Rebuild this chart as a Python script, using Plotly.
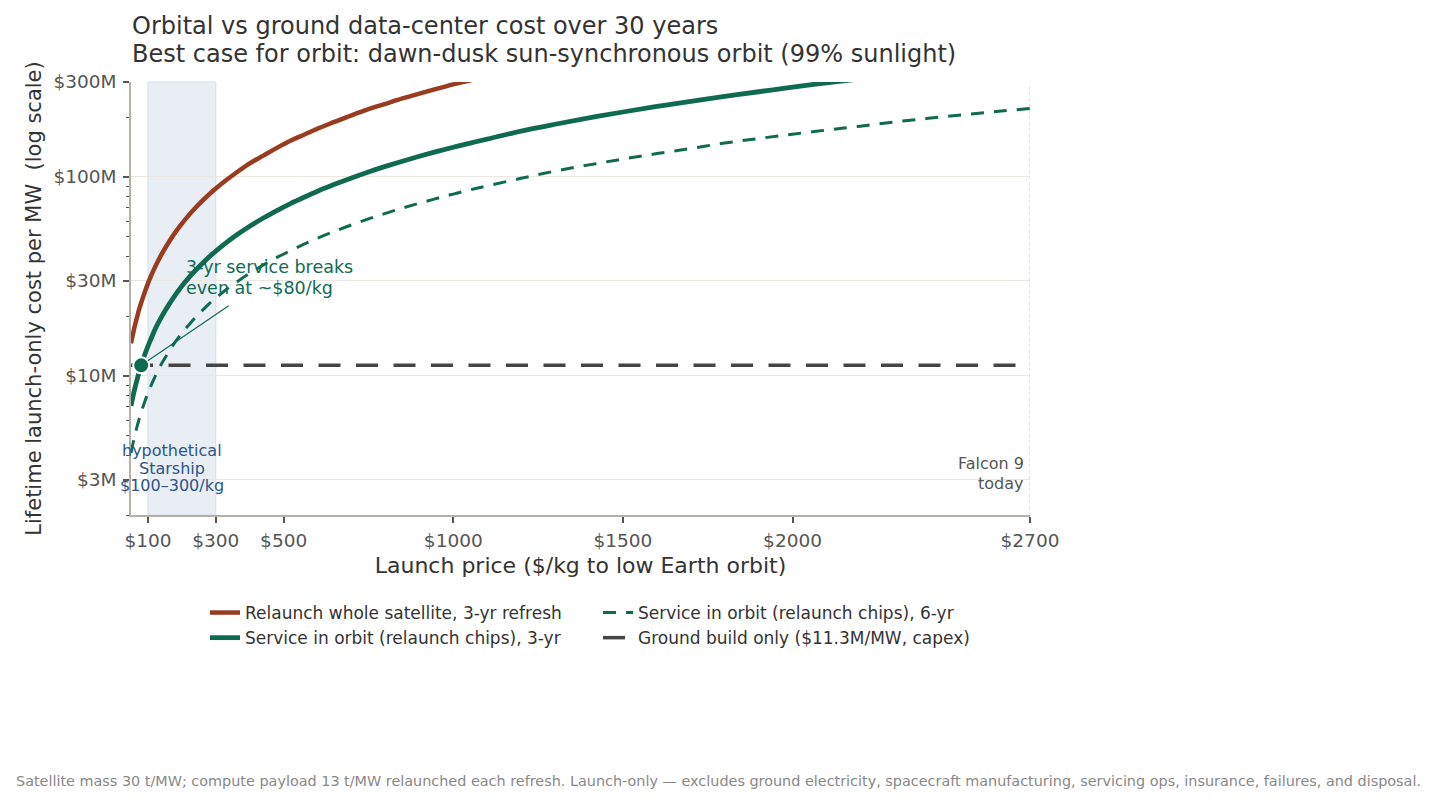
import math
import plotly.graph_objects as go

# ---------------- data ----------------
price_red = [50, 55, 60, 65, 70, 75, 80, 90, 100, 110, 120, 130, 140, 150, 165, 180, 200,
             220, 240, 260, 280, 300, 330, 360, 400, 440, 480, 520, 560, 600, 650, 700,
             750, 800, 850, 900, 950, 1000, 1050, 1100]
cost_red = [14.6, 16.0, 17.5, 18.9, 20.4, 21.9, 23.3, 26.2, 29.2, 32.1, 35.0, 37.9, 40.8,
            43.7, 48.1, 52.5, 58.3, 64.1, 70.0, 75.8, 81.6, 87.5, 96.2, 105, 117, 128, 140,
            152, 163, 175, 189, 204, 219, 233, 248, 262, 277, 292, 306, 321]

price_svc3 = [50, 55, 60, 65, 70, 75, 80, 90, 100, 110, 120, 130, 140, 150, 165, 180, 200,
              220, 240, 260, 280, 300, 330, 360, 400, 440, 480, 520, 560, 600, 650, 700,
              750, 800, 850, 900, 950, 1000, 1050, 1100, 1200, 1300, 1400, 1500, 1600, 1700,
              1800, 1900, 2000, 2100, 2200]
cost_svc3 = [7.07, 7.77, 8.48, 9.18, 9.89, 10.6, 11.3, 12.7, 14.1, 15.5, 17.0, 18.4, 19.8,
             21.2, 23.3, 25.4, 28.3, 31.1, 33.9, 36.7, 39.6, 42.4, 46.6, 50.9, 56.5, 62.2,
             67.8, 73.5, 79.1, 84.8, 91.8, 98.9, 106, 113, 120, 127, 134, 141, 148, 155,
             170, 184, 198, 212, 226, 240, 254, 268, 283, 297, 311]

price_svc6 = [50, 55, 60, 65, 70, 75, 80, 90, 100, 110, 120, 130, 140, 150, 165, 180, 200,
              220, 240, 260, 280, 300, 330, 360, 400, 440, 480, 520, 560, 600, 650, 700,
              750, 800, 850, 900, 950, 1000, 1050, 1100, 1200, 1300, 1400, 1500, 1600, 1700,
              1800, 1900, 2000, 2100, 2200, 2300, 2400, 2500, 2600, 2700]
cost_svc6 = [4.10, 4.51, 4.92, 5.33, 5.74, 6.15, 6.56, 7.38, 8.20, 9.02, 9.84, 10.7, 11.5,
             12.3, 13.5, 14.8, 16.4, 18.0, 19.7, 21.3, 23.0, 24.6, 27.1, 29.5, 32.8, 36.1,
             39.4, 42.6, 45.9, 49.2, 53.3, 57.4, 61.5, 65.6, 69.7, 73.8, 77.9, 82.0, 86.1,
             90.2, 98.4, 107, 115, 123, 131, 139, 148, 156, 164, 172, 180, 189, 197, 205,
             213, 221]

price_ground = [50, 2700]
cost_ground = [11.3, 11.3]

breakeven_price = [80]
breakeven_cost = [11.3]

starship_band = [100, 300]

x_tickvals = [100, 300, 500, 1000, 1500, 2000, 2700]
x_ticktext = ["$100", "$300", "$500", "$1000", "$1500", "$2000", "$2700"]
y_tickvals = [3, 10, 30, 100, 300]
y_ticktext = ["$3M", "$10M", "$30M", "$100M", "$300M"]
y_minor = [2, 4, 5, 6, 7, 8, 9, 20, 40, 50, 60, 70, 80, 90, 200]

title_lines = ["Orbital vs ground data-center cost over 30 years",
               "Best case for orbit: dawn-dusk sun-synchronous orbit (99% sunlight)"]
note_lines = ["3-yr service breaks", "even at ~$80/kg"]
starship_lines = ["hypothetical", "Starship", "$100–300/kg"]
falcon_lines = ["Falcon 9", "today"]
footer = ("Satellite mass 30 t/MW; compute payload 13 t/MW relaunched each refresh. "
          "Launch-only — excludes ground electricity, spacecraft manufacturing, "
          "servicing ops, insurance, failures, and disposal.")

# ---------------- styling / layout helpers ----------------
RED = "#993b1e"
GREEN = "#0f6b50"
GROUND = "#444444"
FONT = "DejaVu Sans"
W, H = 1436, 803
L, R, T, B = 131, 406, 82, 288
PW, PH = W - L - R, H - T - B


def px(x):
    return (x - L) / PW


def py(y):
    return (H - B - y) / PH


fig = go.Figure()

fig.add_trace(go.Scatter(x=price_red, y=cost_red, mode="lines", line_shape="spline",
                         name="Relaunch whole satellite, 3-yr refresh",
                         line=dict(color=RED, width=4.5)))
fig.add_trace(go.Scatter(x=price_svc6, y=cost_svc6, mode="lines", line_shape="spline",
                         name="Service in orbit (relaunch chips), 6-yr",
                         line=dict(color=GREEN, width=3, dash="13px,10px")))
fig.add_trace(go.Scatter(x=price_svc3, y=cost_svc3, mode="lines", line_shape="spline",
                         name="Service in orbit (relaunch chips), 3-yr",
                         line=dict(color=GREEN, width=4.8)))
fig.add_trace(go.Scatter(x=price_ground, y=cost_ground, mode="lines",
                         name="Ground build only ($11.3M/MW, capex)",
                         line=dict(color=GROUND, width=3.5, dash="22px,15.5px")))
fig.add_trace(go.Scatter(x=breakeven_price, y=breakeven_cost, mode="markers",
                         showlegend=False,
                         marker=dict(color=GREEN, size=16, line=dict(color="white", width=2))))

fig.add_shape(type="rect", xref="x", yref="paper", x0=starship_band[0], x1=starship_band[1],
              y0=0, y1=1, fillcolor="#e9eef5", line=dict(color="#d3dde9", width=1),
              layer="below")
fig.add_shape(type="line", xref="x", yref="paper", x0=2700, x1=2700, y0=0, y1=1,
              line=dict(color="#c8c8c8", width=1, dash="dot"))

annos = []
annos.append(dict(x=breakeven_price[0], y=math.log10(breakeven_cost[0]), xref="x", yref="y",
                  text=" ", showarrow=True, ax=91, ay=-62, arrowhead=0,
                  arrowwidth=1.2, arrowcolor=GREEN, standoff=8))
for txt, yy in zip(title_lines, [26, 54]):
    annos.append(dict(x=px(130), y=py(yy), xref="paper", yref="paper", text=txt,
                      showarrow=False, xanchor="left", yanchor="middle",
                      font=dict(family=FONT, size=24, color="#333333")))
for txt, yy in zip(note_lines, [267, 288]):
    annos.append(dict(x=px(184), y=py(yy), xref="paper", yref="paper", text=txt,
                      showarrow=False, xanchor="left", yanchor="middle",
                      font=dict(family=FONT, size=17.5, color=GREEN)))
for txt, yy in zip(starship_lines, [450, 468, 485]):
    annos.append(dict(x=px(172), y=py(yy), xref="paper", yref="paper", text=txt,
                      showarrow=False, xanchor="center", yanchor="middle",
                      font=dict(family=FONT, size=16, color="#2c5586")))
for txt, yy in zip(falcon_lines, [463, 483]):
    annos.append(dict(x=px(1026), y=py(yy), xref="paper", yref="paper", text=txt,
                      showarrow=False, xanchor="right", yanchor="middle",
                      font=dict(family=FONT, size=16, color="#555555")))
annos.append(dict(x=px(14), y=py(781), xref="paper", yref="paper", text=footer,
                  showarrow=False, xanchor="left", yanchor="middle",
                  font=dict(family=FONT, size=14.4, color="#888888")))

fig.update_layout(
    width=W, height=H,
    margin=dict(l=L, r=R, t=T, b=B),
    paper_bgcolor="white", plot_bgcolor="white",
    font=dict(family=FONT, color="#333333"),
    showlegend=True,
    legend=dict(orientation="h", x=px(205), xanchor="left",
                y=py(595), yanchor="top",
                entrywidth=348, entrywidthmode="pixels",
                font=dict(family=FONT, size=17, color="#333333"),
                bgcolor="rgba(0,0,0,0)"),
    annotations=annos,
)

fig.update_xaxes(range=[50, 2700], tickmode="array", tickvals=x_tickvals, ticktext=x_ticktext,
                 ticks="outside", ticklen=6, tickwidth=1.5, tickcolor="#555555",
                 ticklabelstandoff=2,
                 showline=True, linecolor="#b5b1a6", linewidth=1.5, mirror=False,
                 showgrid=False, zeroline=False,
                 tickfont=dict(family=FONT, size=18.5, color="#555555"),
                 title=dict(text="Launch price ($/kg to low Earth orbit)",
                            font=dict(family=FONT, size=22, color="#333333"), standoff=8))
fig.update_yaxes(type="log", range=[math.log10(2), math.log10(300)],
                 tickmode="array", tickvals=y_tickvals, ticktext=y_ticktext,
                 ticks="outside", ticklen=6, tickwidth=1.5, tickcolor="#555555",
                 ticklabelstandoff=3,
                 showline=True, linecolor="#b5b1a6", linewidth=1.5,
                 showgrid=True, gridcolor="#e9e7df", gridwidth=1, zeroline=False,
                 minor=dict(tickmode="array", tickvals=y_minor, ticks="outside", ticklen=3,
                            tickwidth=1, tickcolor="#555555", showgrid=False),
                 tickfont=dict(family=FONT, size=18.5, color="#555555"),
                 title=dict(text="Lifetime launch-only cost per MW\u00a0\u00a0(log scale)",
                            font=dict(family=FONT, size=21, color="#333333"), standoff=6))

fig.write_html("out.html")
